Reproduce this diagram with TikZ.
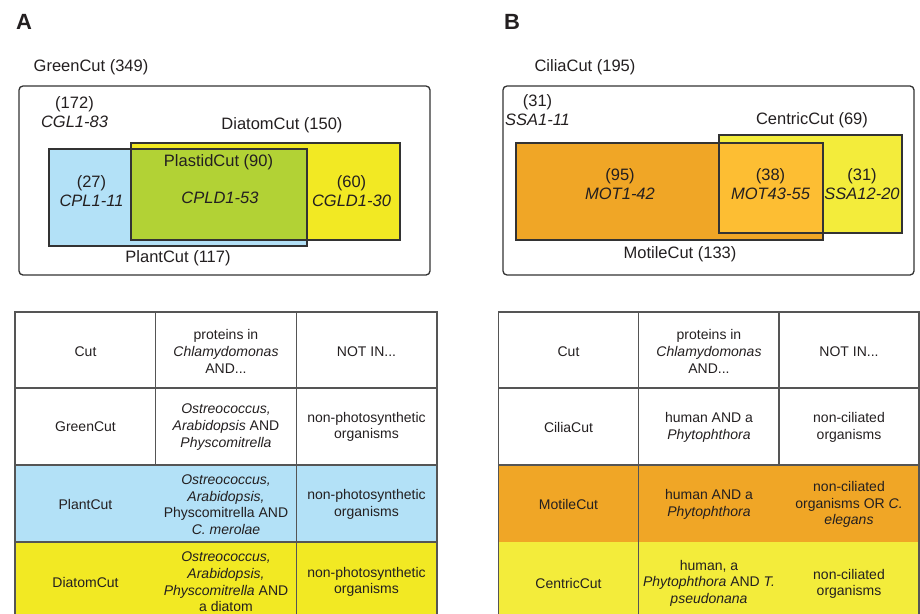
\documentclass[tikz,border=0pt]{standalone}
\usepackage{fontspec}
\setmainfont{Liberation Sans}
\definecolor{txt}{HTML}{231F20}
\definecolor{edge}{HTML}{333333}
\definecolor{rule}{HTML}{555555}
\definecolor{plantblue}{HTML}{B3E1F7}
\definecolor{diatomyellow}{HTML}{F2E923}
\definecolor{plastidgreen}{HTML}{B2D235}
\definecolor{motileorange}{HTML}{F0A626}
\definecolor{bothorange}{HTML}{FDBE33}
\definecolor{centricyellow}{HTML}{F3EC3B}
\tikzset{
  venn/.style={font=\fontsize{16.5}{18.5}\selectfont, text=txt, align=center, inner sep=0pt},
  cell/.style={font=\fontsize{14}{16.6}\selectfont, text=txt, align=center, inner sep=0pt},
  panel/.style={font=\fontsize{22}{22}\selectfont\bfseries, text=txt, inner sep=0pt},
  cutbox/.style={draw=edge, line width=1.3pt},
  grid/.style={draw=rule, line width=1.5pt},
}
\begin{document}
\begin{tikzpicture}[x=1pt, y=-1pt]
  \useasboundingbox (0,0) rectangle (920,613);

  % Panel A: Venn boxes
  \coordinate (gA1) at (19,86);    \coordinate (gA2) at (430,275);
  \coordinate (pA1) at (49,149);   \coordinate (pA2) at (307,246);
  \coordinate (dA1) at (131,143);  \coordinate (dA2) at (400,240);
  \coordinate (xA1) at (131,149);  \coordinate (xA2) at (307,240);

  \fill[plantblue] (pA1) rectangle (pA2);
  \fill[diatomyellow] (dA1) rectangle (dA2);
  \fill[plastidgreen] (xA1) rectangle (xA2);
  \draw[cutbox] (dA1) rectangle (dA2);
  \draw[cutbox] (pA1) rectangle (pA2);
  \draw[cutbox, rounded corners=4pt] (gA1) rectangle (gA2);

  \node[panel] (lblA) at (24,22) {A};
  \node[venn] (green) at (91,67) {GreenCut (349)};
  \node[venn] (cgl) at (74.5,112) {(172)\\\itshape CGL1-83};
  \node[venn] (diatom) at (282,125) {DiatomCut (150)};
  \node[venn] (plastid) at (218.5,162) {PlastidCut (90)};
  \node[venn] (cpl) at (91.5,191) {(27)\\\itshape CPL1-11};
  \node[venn] (cpld) at (220,198) {\itshape CPLD1-53};
  \node[venn] (cgld) at (351.5,191) {(60)\\\itshape CGLD1-30};
  \node[venn] (plant) at (178,258) {PlantCut (117)};

  % Panel B: Venn boxes
  \coordinate (gB1) at (503,86);   \coordinate (gB2) at (914,275);
  \coordinate (mB1) at (516,143);  \coordinate (mB2) at (823,240);
  \coordinate (cB1) at (719,135);  \coordinate (cB2) at (902,233);
  \coordinate (xB1) at (719,143);  \coordinate (xB2) at (823,233);

  \fill[motileorange] (mB1) rectangle (mB2);
  \fill[centricyellow] (cB1) rectangle (cB2);
  \fill[bothorange] (xB1) rectangle (xB2);
  \draw[cutbox] (cB1) rectangle (cB2);
  \draw[cutbox] (mB1) rectangle (mB2);
  \draw[cutbox, rounded corners=4pt] (gB1) rectangle (gB2);

  \node[panel] (lblB) at (512,22) {B};
  \node[venn] (cilia) at (585,67) {CiliaCut (195)};
  \node[venn] (ssa) at (537.5,110) {(31)\\\itshape SSA1-11};
  \node[venn] (centric) at (812,120) {CentricCut (69)};
  \node[venn] (mot) at (620,184) {(95)\\\itshape MOT1-42};
  \node[venn] (motb) at (770.5,184) {(38)\\\itshape MOT43-55};
  \node[venn] (ssab) at (862,184) {(31)\\\itshape SSA12-20};
  \node[venn] (motile) at (680,254) {MotileCut (133)};

  % Table A
  \fill[plantblue] (15,465) rectangle (437,542);
  \fill[diatomyellow] (15,542) rectangle (437,614);
  \draw[grid] (15,614) -- (15,312) -- (437,312) -- (437,614);
  \foreach \y in {388,465,542} \draw[grid] (15,\y) -- (437,\y);
  \draw[grid] (155.7,312) -- (155.7,465);
  \draw[grid] (296.3,312) -- (296.3,614);

  \node[cell] (tA11) at (85.5,351.5) {Cut};
  \node[cell] (tA12) at (226,351.5) {proteins in\\\textit{Chlamydomonas}\\AND...};
  \node[cell] (tA13) at (366.5,351.5) {NOT IN...};
  \node[cell] (tA21) at (85.5,427) {GreenCut};
  \node[cell] (tA22) at (226,427) {\textit{Ostreococcus,}\\\textit{Arabidopsis} AND\\\textit{Physcomitrella}};
  \node[cell] (tA23) at (366.5,427) {non-photosynthetic\\organisms};
  \node[cell] (tA31) at (85.5,504) {PlantCut};
  \node[cell] (tA32) at (226,504.5) {\textit{Ostreococcus,}\\\textit{Arabidopsis,}\\Physcomitrella AND\\\textit{C. merolae}};
  \node[cell] (tA33) at (366.5,504.5) {non-photosynthetic\\organisms};
  \node[cell] (tA41) at (85.5,582) {DiatomCut};
  \node[cell] (tA42) at (226,582) {\textit{Ostreococcus,}\\\textit{Arabidopsis,}\\\textit{Physcomitrella} AND\\a diatom};
  \node[cell] (tA43) at (366.5,582) {non-photosynthetic\\organisms};

  % Table B
  \fill[motileorange] (498,465) rectangle (919,542);
  \fill[centricyellow] (498,542) rectangle (919,614);
  \draw[grid] (498.3,614) -- (498.3,312) -- (919,312) -- (919,614);
  \foreach \y in {388,465} \draw[grid] (498.3,\y) -- (919,\y);
  \draw[grid] (638.7,312) -- (638.7,614);
  \draw[grid] (779,312) -- (779,465);

  \node[cell] (tB11) at (568.5,351.5) {Cut};
  \node[cell] (tB12) at (709,351.5) {proteins in\\\textit{Chlamydomonas}\\AND...};
  \node[cell] (tB13) at (849,351.5) {NOT IN...};
  \node[cell] (tB21) at (568.5,427) {CiliaCut};
  \node[cell] (tB22) at (709,427.5) {human AND a\\\textit{Phytophthora}};
  \node[cell] (tB23) at (849,427.5) {non-ciliated\\organisms};
  \node[cell] (tB31) at (568.5,504) {MotileCut};
  \node[cell] (tB32) at (709,504.5) {human AND a\\\textit{Phytophthora}};
  \node[cell] (tB33) at (849,504.5) {non-ciliated\\organisms OR \textit{C.}\\\textit{elegans}};
  \node[cell] (tB41) at (568.5,583) {CentricCut};
  \node[cell] (tB42) at (709,583) {human, a\\\textit{Phytophthora} AND \textit{T.}\\\textit{pseudonana}};
  \node[cell] (tB43) at (849,584) {non-ciliated\\organisms};
\end{tikzpicture}
\end{document}
